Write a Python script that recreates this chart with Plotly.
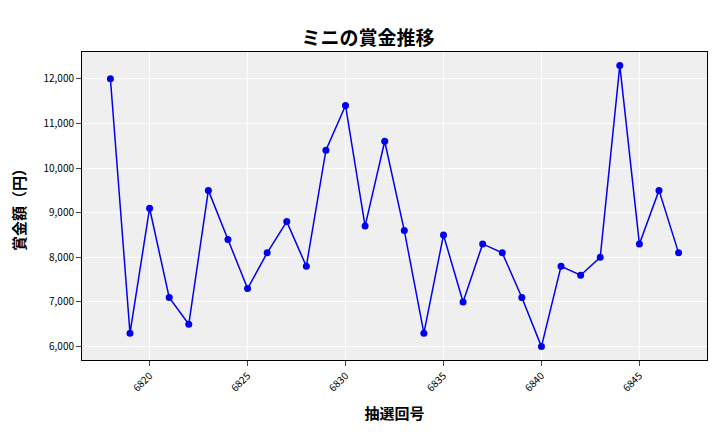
import plotly.graph_objects as go

draws = list(range(6818, 6848))
prizes = [12000, 6300, 9100, 7100, 6500, 9500, 8400, 7300, 8100, 8800, 7800, 10400, 11400, 8700, 10600,
          8600, 6300, 8500, 7000, 8300, 8100, 7100, 6000, 7800, 7600, 8000, 12300, 8300, 9500, 8100]
yticks = [6000, 7000, 8000, 9000, 10000, 11000, 12000]
xticks = [6820, 6825, 6830, 6835, 6840, 6845]

font = "Noto Sans CJK JP"
fig = go.Figure(go.Scatter(x=draws, y=prizes, mode="lines+markers",
                           line=dict(color="#0000ee", width=1.5),
                           marker=dict(color="#0000ee", size=7)))
fig.update_layout(
    width=720, height=432, margin=dict(l=74, r=21, t=44, b=80, autoexpand=False),
    paper_bgcolor="white", plot_bgcolor="#efefef",
    font=dict(family=font, color="black"),
    title=dict(text="<b>ミニの賞金推移</b>", x=0.5, xanchor="center", y=0.945, font=dict(size=19)),
    showlegend=False,
)
fig.update_xaxes(tickvals=xticks, ticktext=[str(v) for v in xticks], tickangle=-45,
                 tickfont=dict(size=10), gridcolor="white", range=[6816.55, 6848.45],
                 showline=True, linecolor="black", mirror=True, ticks="outside",
                 title=dict(text="<b>抽選回号</b>", font=dict(size=15)))
fig.update_yaxes(tickvals=yticks, ticktext=[f"{v:,}" for v in yticks], tickfont=dict(size=10),
                 gridcolor="white", range=[5700, 12600],
                 showline=True, linecolor="black", mirror=True, ticks="outside",
                 title=dict(text="<b>賞金額（円）</b>", font=dict(size=15)))
fig.write_html("out.html")
